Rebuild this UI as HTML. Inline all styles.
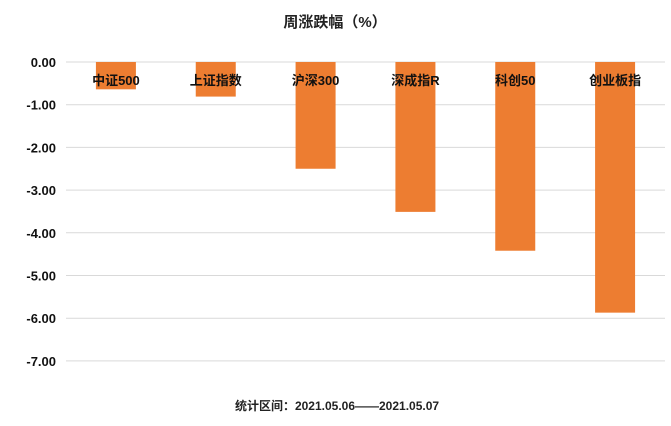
<!DOCTYPE html>
<html><head><meta charset="utf-8"><style>
body{margin:0;background:#fff;font-family:"Liberation Sans","Noto Sans CJK SC",sans-serif;}
</style></head><body>
<svg width="671" height="421" id="c" xmlns="http://www.w3.org/2000/svg">
<text x="335" y="27" text-anchor="middle" font-size="15" font-weight="bold" fill="#222">周涨跌幅（%）</text>
<text x="337" y="410" text-anchor="middle" font-size="12" font-weight="bold" fill="#222">统计区间：2021.05.06——2021.05.07</text>
</svg>
<script>
const categories=["中证500","上证指数","沪深300","深成指R","科创50","创业板指"];
const values=[-0.64,-0.81,-2.50,-3.51,-4.42,-5.87];
const ticks=[0,-1,-2,-3,-4,-5,-6,-7];
const svg=document.getElementById('c');
const NS="http://www.w3.org/2000/svg";
const x0=66,x1=665,y0=62,perUnit=42.7;
const y=v=>y0-v*perUnit;
const band=(x1-x0)/categories.length;
const xc=i=>x0+band*(i+0.5);
function mk(t,a){const e=document.createElementNS(NS,t);for(const k in a)e.setAttribute(k,a[k]);svg.appendChild(e);return e;}
ticks.forEach(t=>{
  const l=mk('line',{x1:x0,x2:x1,y1:y(t),y2:y(t),stroke:'#d9d9d9','stroke-width':1});
  
  
  const tx=mk('text',{x:56,y:y(t)+5,'text-anchor':'end','font-size':13,'font-weight':'bold',fill:'#111'});
  tx.textContent=t.toFixed(2);
  
  
});
values.forEach((v,i)=>{
  const r=mk('rect',{x:xc(i)-20,y:y(0),width:40,height:y(v)-y(0),fill:'#ed7d31'});
  
  
});
categories.forEach((c,i)=>{
  const t=mk('text',{x:xc(i),y:85,'text-anchor':'middle','font-size':13,'font-weight':'bold',fill:'#111'});
  t.textContent=c;
  
  
});
</script>
</body></html>
